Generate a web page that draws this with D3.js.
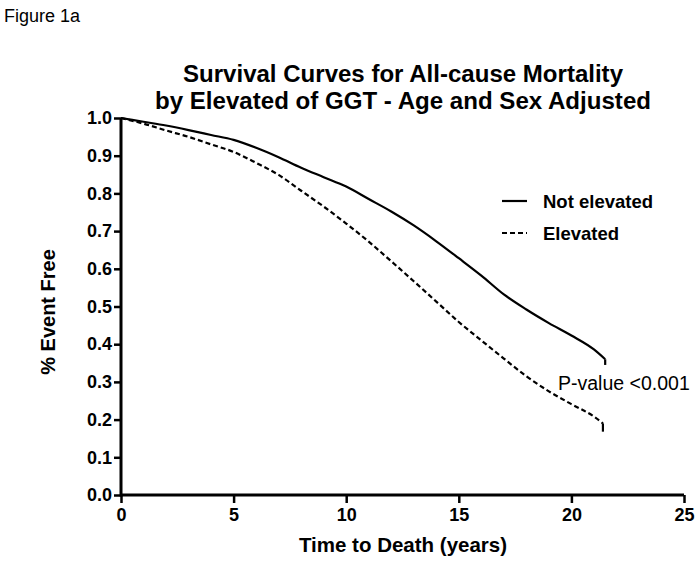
<!DOCTYPE html>
<html><head><meta charset="utf-8">
<script src="https://cdn.jsdelivr.net/npm/d3@7"></script>
<style>body{margin:0;background:#fff}svg{display:block}text{font-family:"Liberation Sans",Arial,sans-serif;fill:#000}</style>
</head><body><svg id="c" width="700" height="562"></svg>
<script>
const years = [0,1,2,3,4,5,6,7,8,9,10,11,12,13,14,15,16,17,18,19,20,21,21.5,21.5];
const notElevated = [1.0,0.99,0.98,0.968,0.955,0.942,0.921,0.896,0.868,0.843,0.818,0.785,0.752,0.715,0.673,0.628,0.582,0.532,0.492,0.456,0.423,0.386,0.36,0.345];
const elevatedYears = [0,1,2,3,4,5,6,7,8,9,10,11,12,13,14,15,16,17,18,19,20,21,21.4,21.4];
const elevated = [1.0,0.985,0.967,0.95,0.93,0.91,0.881,0.849,0.807,0.765,0.72,0.672,0.62,0.567,0.513,0.459,0.41,0.362,0.315,0.275,0.241,0.208,0.19,0.168];
const xTicks = [0,5,10,15,20,25];
const yTicks = [0,0.1,0.2,0.3,0.4,0.5,0.6,0.7,0.8,0.9,1.0];
const seriesNames = ["Not elevated","Elevated"];

const svg = d3.select("#c");
const x = d3.scaleLinear().domain([0,25]).range([121,684]);
const y = d3.scaleLinear().domain([0,1]).range([495,118]);

svg.append("text").attr("x",4).attr("y",22).attr("font-size",18).text("Figure 1a");
svg.append("text").attr("x",403).attr("y",82).attr("text-anchor","middle").attr("font-size",23).attr("font-weight","bold").attr("textLength",440).attr("lengthAdjust","spacingAndGlyphs").text("Survival Curves for All-cause Mortality");
svg.append("text").attr("x",403).attr("y",109).attr("text-anchor","middle").attr("font-size",23).attr("font-weight","bold").attr("textLength",496).attr("lengthAdjust","spacingAndGlyphs").text("by Elevated of GGT - Age and Sex Adjusted");

const xa = svg.append("g").attr("transform","translate(0,495)")
  .call(d3.axisBottom(x).tickValues(xTicks).tickFormat(d3.format("d")).tickSize(8).tickPadding(5));
const ya = svg.append("g").attr("transform","translate(121,0)")
  .call(d3.axisLeft(y).tickValues(yTicks).tickFormat(d3.format(".1f")).tickSize(7).tickPadding(2));
[xa,ya].forEach(a=>{
  a.select(".domain").attr("stroke","#000").attr("stroke-width",3);
  a.selectAll(".tick line").attr("stroke","#000").attr("stroke-width",2.5);
  a.selectAll(".tick text").attr("font-size",18).attr("font-weight","bold").attr("font-family","Liberation Sans, Arial, sans-serif").attr("fill","#000");
});
xa.selectAll(".domain").attr("d","M121,0H684");
ya.selectAll(".domain").attr("d","M0,496.5V118");

svg.append("text").attr("x",403).attr("y",552).attr("text-anchor","middle").attr("font-size",20.5).attr("font-weight","bold").text("Time to Death (years)");
svg.append("text").attr("transform","translate(55,312) rotate(-90)").attr("text-anchor","middle").attr("font-size",20).attr("font-weight","bold").text("% Event Free");

const line = d3.line().x(d=>x(d[0])).y(d=>y(d[1])).curve(d3.curveMonotoneX);
const lineL = d3.line().x(d=>x(d[0])).y(d=>y(d[1]));
function draw(xs, vs, dash){
  const pts = xs.map((t,i)=>[t,vs[i]]);
  const main = pts.slice(0,pts.length-1);
  const g = svg.append("g").attr("fill","none").attr("stroke","#000").attr("stroke-width",2.2);
  g.append("path").attr("d",line(main)).attr("stroke-dasharray",dash?"5,3":null);
  g.append("path").attr("d",lineL(pts.slice(pts.length-2))).attr("stroke-width",2.2);
}
draw(years, notElevated, false);
draw(elevatedYears, elevated, true);

const leg = [{n:seriesNames[0],d:null,yy:201},{n:seriesNames[1],d:"5,3",yy:233}];
leg.forEach(l=>{
  svg.append("line").attr("x1",502).attr("x2",527).attr("y1",l.yy).attr("y2",l.yy).attr("stroke","#000").attr("stroke-width",2.2).attr("stroke-dasharray",l.d);
  svg.append("text").attr("x",543).attr("y",l.yy+6.5).attr("font-size",18.5).attr("font-weight","bold").text(l.n);
});
svg.append("text").attr("x",558).attr("y",390).attr("font-size",19.5).text("P-value <0.001");
</script></body></html>
